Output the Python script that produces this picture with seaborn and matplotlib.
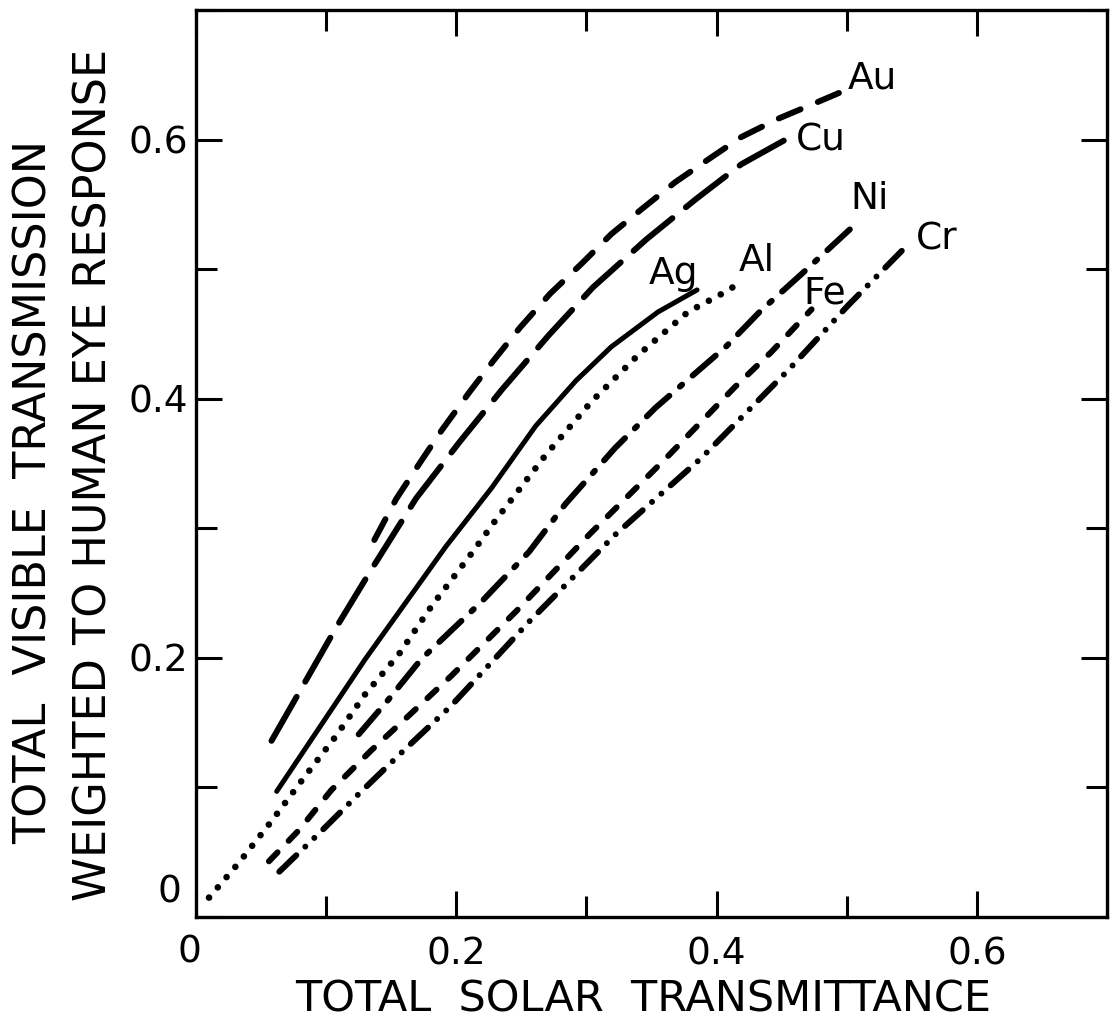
import matplotlib
matplotlib.use("Agg")
import matplotlib.pyplot as plt
import pandas as pd
import seaborn as sns

# Solar vs. visible transmittance of thin metal films
metals = ["Au", "Cu", "Ag", "Al", "Ni", "Fe", "Cr"]

au_x = [0.137, 0.154, 0.173, 0.189, 0.210, 0.229, 0.249, 0.272, 0.296, 0.319, 0.342, 0.368, 0.394, 0.419, 0.447, 0.473, 0.494]
au_y = [0.291, 0.323, 0.352, 0.376, 0.405, 0.430, 0.455, 0.481, 0.504, 0.527, 0.546, 0.567, 0.585, 0.602, 0.616, 0.627, 0.636]

cu_x = [0.058, 0.108, 0.134, 0.169, 0.202, 0.235, 0.271, 0.305, 0.346, 0.384, 0.419, 0.453]
cu_y = [0.136, 0.224, 0.267, 0.323, 0.366, 0.407, 0.449, 0.486, 0.523, 0.554, 0.581, 0.600]

ag_x = [0.062, 0.130, 0.192, 0.227, 0.261, 0.292, 0.319, 0.355, 0.385]
ag_y = [0.097, 0.199, 0.286, 0.331, 0.379, 0.414, 0.440, 0.467, 0.484]

al_x = [0.010, 0.033, 0.058, 0.084, 0.107, 0.130, 0.156, 0.181, 0.212, 0.230, 0.269, 0.304, 0.340, 0.378, 0.404, 0.419]
al_y = [0.015, 0.042, 0.074, 0.109, 0.139, 0.172, 0.203, 0.240, 0.281, 0.306, 0.357, 0.398, 0.434, 0.467, 0.481, 0.490]

ni_x = [0.125, 0.148, 0.173, 0.219, 0.256, 0.284, 0.322, 0.353, 0.384, 0.407, 0.434, 0.465, 0.507]
ni_y = [0.141, 0.168, 0.199, 0.243, 0.282, 0.319, 0.362, 0.393, 0.420, 0.440, 0.468, 0.496, 0.535]

fe_x = [0.056, 0.079, 0.104, 0.135, 0.163, 0.196, 0.246, 0.302, 0.361, 0.414, 0.442, 0.473]
fe_y = [0.043, 0.067, 0.098, 0.129, 0.155, 0.186, 0.236, 0.295, 0.354, 0.409, 0.436, 0.469]

cr_x = [0.064, 0.097, 0.123, 0.158, 0.196, 0.256, 0.322, 0.388, 0.455, 0.501, 0.549]
cr_y = [0.035, 0.067, 0.093, 0.127, 0.163, 0.228, 0.295, 0.354, 0.422, 0.472, 0.521]

series_x = [au_x, cu_x, ag_x, al_x, ni_x, fe_x, cr_x]
series_y = [au_y, cu_y, ag_y, al_y, ni_y, fe_y, cr_y]

minor_ticks = [0.0, 0.1, 0.2, 0.3, 0.4, 0.5, 0.6, 0.7]
major_ticks = [0.0, 0.2, 0.4, 0.6]
major_labels = ["", "0.2", "0.4", "0.6"]
origin_label = "0"

frames = []
for name, xs, ys in zip(metals, series_x, series_y):
    frames.append(pd.DataFrame({"metal": name, "solar": xs, "visible": ys}))
df = pd.concat(frames, ignore_index=True)

sns.set_theme(style="white")
plt.rcParams["font.family"] = ["DejaVu Sans"]
plt.rcParams["lines.scale_dashes"] = False
plt.rcParams["text.color"] = "black"
plt.rcParams["xtick.color"] = "black"
plt.rcParams["ytick.color"] = "black"
plt.rcParams["xtick.labelcolor"] = "black"
plt.rcParams["ytick.labelcolor"] = "black"

# dash patterns in points (round caps lengthen each dash by one line width)
styles = {
    "Au": dict(lw=4.3, ls=(0, (17.0, 13.5))),
    "Cu": dict(lw=4.3, ls=(0, (36.5, 12.5))),
    "Ag": dict(lw=3.6, ls="-"),
    "Al": dict(lw=4.8, ls=(0, (0.01, 9.7))),
    "Ni": dict(lw=4.3, ls=(0, (22.0, 10.0, 2.2, 10.0))),
    "Fe": dict(lw=4.3, ls=(0, (9.0, 11.5))),
    "Cr": dict(lw=4.3, ls=(0, (17.0, 9.0, 0.01, 9.0, 0.01, 9.0))),
}

fig = plt.figure(figsize=(11.10, 10.26), dpi=100)
ax = fig.add_axes([0.1766, 0.1062, 0.8207, 0.884])

for name in metals:
    sub = df[df["metal"] == name]
    st = styles[name]
    sns.lineplot(data=sub, x="solar", y="visible", ax=ax, color="black",
                 linewidth=st["lw"], linestyle=st["ls"], estimator=None,
                 sort=False, legend=False, dash_capstyle="round",
                 solid_capstyle="round")

# curve labels
label_pos = {
    "Au": (0.501, 0.647), "Cu": (0.461, 0.599), "Ag": (0.348, 0.496),
    "Al": (0.417, 0.506), "Ni": (0.503, 0.554), "Fe": (0.467, 0.481),
    "Cr": (0.553, 0.523),
}
for name in metals:
    lx, ly = label_pos[name]
    ax.text(lx, ly, name, fontsize=27, ha="left", va="center", color="black")

ax.set_xlim(0, 0.7)
ax.set_ylim(0, 0.7)
ax.set_xticks(major_ticks)
ax.set_xticklabels(major_labels)
ax.set_yticks(major_ticks)
ax.set_yticklabels(major_labels)
ax.set_xticks(minor_ticks, minor=True)
ax.set_yticks(minor_ticks, minor=True)
ax.tick_params(which="both", direction="in", top=True, right=True,
               bottom=True, left=True, color="black", width=2.2)
ax.tick_params(which="major", length=19)
ax.tick_params(which="minor", length=15)
ax.tick_params(axis="x", which="major", labelsize=27, pad=14, labelcolor="black")
ax.tick_params(axis="y", which="major", labelsize=27, pad=6, labelcolor="black")
for side in ax.spines.values():
    side.set_linewidth(2.4)
    side.set_color("black")
ax.set_xlabel("")
ax.set_ylabel("")

# the two origin zeros sit a little off their ticks
ax.text(-0.005, -0.0275, origin_label, fontsize=27, ha="center", va="center",
        transform=ax.transData, clip_on=False)
ax.text(-0.0205, 0.019, origin_label, fontsize=27, ha="center", va="center",
        transform=ax.transData, clip_on=False)

fig.text(0.5795, 0.026, "TOTAL  SOLAR  TRANSMITTANCE", fontsize=31,
         ha="center", va="center")
fig.text(0.031, 0.520, "TOTAL  VISIBLE  TRANSMISSION", fontsize=32,
         rotation=90, ha="center", va="center")
fig.text(0.085, 0.537, "WEIGHTED TO HUMAN EYE RESPONSE", fontsize=32,
         rotation=90, ha="center", va="center")

fig.savefig("out.png", dpi=100, facecolor="white")
